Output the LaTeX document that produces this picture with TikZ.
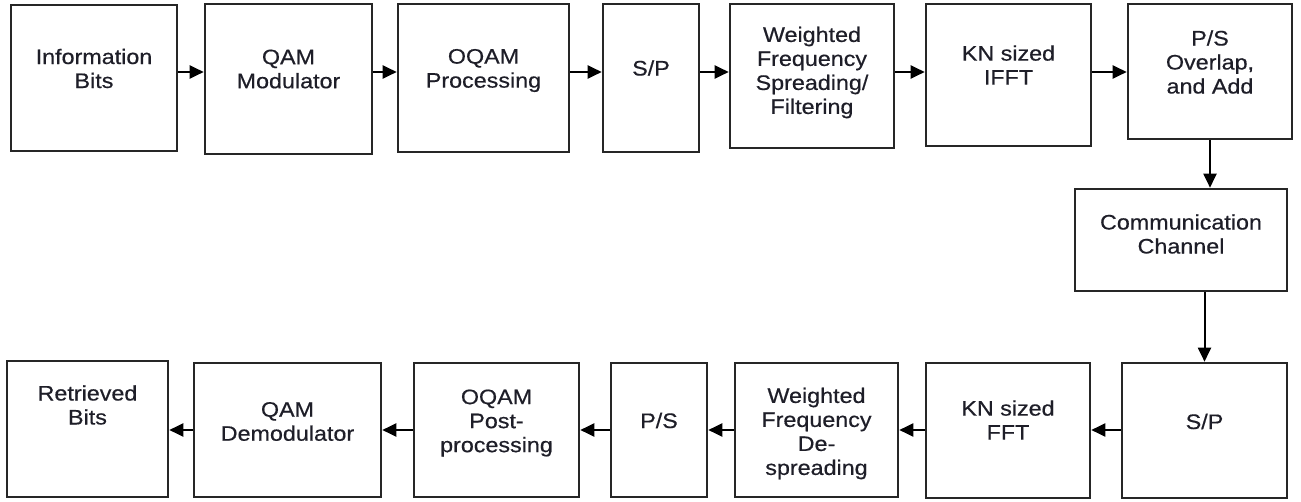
\documentclass[tikz,border=0pt]{standalone}
\usepackage{fontspec}
\setmainfont{Liberation Sans}[FakeStretch=1.11,FakeBold=0.5]
\usetikzlibrary{arrows.meta}
\definecolor{txt}{RGB}{30,30,40}
\tikzset{
  blk/.style={draw=black!85, line width=2.6pt, rectangle, inner sep=0pt},
  lbl/.style={align=center, text=txt, inner sep=0pt, font=\fontsize{21}{24}\selectfont},
  arr/.style={draw=black, line width=2pt, -{Triangle[length=14pt,width=13pt]}}
}
\begin{document}
\begin{tikzpicture}[x=1pt,y=1pt]
\useasboundingbox (0,0) rectangle (1301,-502);
% top row boxes
\node[blk, minimum width=166, minimum height=146] (t1) at (94,-78) {};
\node[blk, minimum width=167, minimum height=150] (t2) at (288.5,-79) {};
\node[blk, minimum width=171, minimum height=148] (t3) at (483.5,-78) {};
\node[blk, minimum width=96,  minimum height=148] (t4) at (651,-78) {};
\node[blk, minimum width=164, minimum height=144] (t5) at (812,-76) {};
\node[blk, minimum width=165, minimum height=142] (t6) at (1008.5,-75) {};
\node[blk, minimum width=164, minimum height=135] (t7) at (1210,-71.5) {};
% channel
\node[blk, minimum width=212, minimum height=102] (ch) at (1181,-240) {};
% bottom row boxes
\node[blk, minimum width=165, minimum height=135] (b1) at (1204.5,-430.5) {};
\node[blk, minimum width=164, minimum height=135] (b2) at (1008,-430.5) {};
\node[blk, minimum width=163, minimum height=134] (b3) at (816.5,-430) {};
\node[blk, minimum width=96,  minimum height=134] (b4) at (659,-430) {};
\node[blk, minimum width=165, minimum height=134] (b5) at (496.5,-430) {};
\node[blk, minimum width=187, minimum height=134] (b6) at (287.5,-430) {};
\node[blk, minimum width=161, minimum height=136] (b7) at (87.5,-429) {};
% labels
\node[lbl] (t1l) at (94,-68.5) {Information\\Bits};
\node[lbl] (t2l) at (288.5,-69) {QAM\\Modulator};
\node[lbl] (t3l) at (483.5,-70.5) {OQAM\\Processing};
\node[lbl] (t4l) at (651,-68) {S/P};
\node[lbl] (t5l) at (812,-72.5) {Weighted\\Frequency\\Spreading/\\Filtering};
\node[lbl] (t6l) at (1008.5,-65) {KN sized\\IFFT};
\node[lbl] (t7l) at (1210,-62) {P/S\\Overlap,\\and Add};
\node[lbl] (chl) at (1181,-234) {Communication\\Channel};
\node[lbl] (b1l) at (1204.5,-421.5) {S/P};
\node[lbl] (b2l) at (1008,-420) {KN sized\\FFT};
\node[lbl] (b3l) at (816.5,-433.5) {Weighted\\Frequency\\De-\\spreading};
\node[lbl] (b4l) at (659,-420.5) {P/S};
\node[lbl] (b5l) at (496.5,-423) {OQAM\\Post-\\processing};
\node[lbl] (b6l) at (287.5,-421.5) {QAM\\Demodulator};
\node[lbl] (b7l) at (87.5,-405) {Retrieved\\Bits};
% helper coordinates
\coordinate (ytop) at (0,-72);
\coordinate (ybot) at (0,-430);
% top arrows
\draw[arr] (t1.east |- ytop) -- (t2.west |- ytop);
\draw[arr] (t2.east |- ytop) -- (t3.west |- ytop);
\draw[arr] (t3.east |- ytop) -- (t4.west |- ytop);
\draw[arr] (t4.east |- ytop) -- (t5.west |- ytop);
\draw[arr] (t5.east |- ytop) -- (t6.west |- ytop);
\draw[arr] (t6.east |- ytop) -- (t7.west |- ytop);
% vertical arrows
\draw[arr] (t7.south) -- (t7.south |- ch.north);
\draw[arr] (b1.north |- ch.south) -- (b1.north);
% bottom arrows
\draw[arr] (b1.west |- ybot) -- (b2.east |- ybot);
\draw[arr] (b2.west |- ybot) -- (b3.east |- ybot);
\draw[arr] (b3.west |- ybot) -- (b4.east |- ybot);
\draw[arr] (b4.west |- ybot) -- (b5.east |- ybot);
\draw[arr] (b5.west |- ybot) -- (b6.east |- ybot);
\draw[arr] (b6.west |- ybot) -- (b7.east |- ybot);
\end{tikzpicture}
\end{document}
